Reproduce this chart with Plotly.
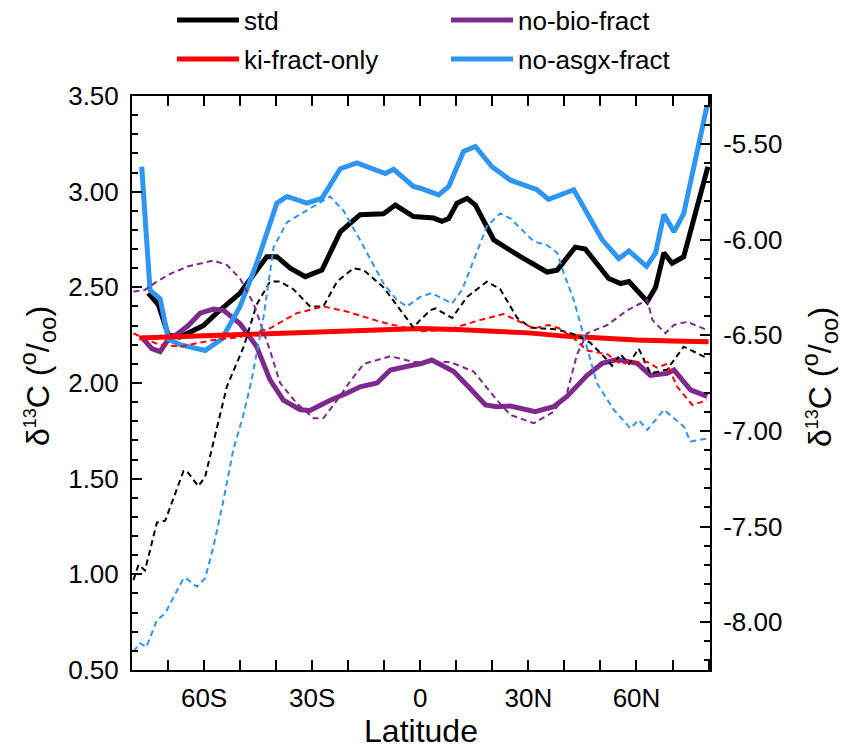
import plotly.graph_objects as go

# ---------------- data (left axis: solid lines) ----------------
std_lat = [-75.5, -72.7, -69.9, -66.7, -60.2, -56.5, -50, -46.3, -42.6, -39.8, -36.1, -31.9, -27.3,
           -22.2, -16.7, -10.2, -6.9, -1.9, 3.7, 6, 7.9, 10.2, 13, 15.3, 20.4, 27.8, 35.2, 38, 43,
           45.8, 52.3, 55.6, 57.9, 63, 65.3, 67.6, 69.9, 73.1, 79.8]
std_val = [2.47, 2.41, 2.25, 2.24, 2.30, 2.365, 2.47, 2.57, 2.66, 2.66, 2.60, 2.556, 2.59,
           2.79, 2.88, 2.885, 2.93, 2.87, 2.862, 2.845, 2.86, 2.94, 2.965, 2.93, 2.748, 2.66, 2.58, 2.59, 2.71,
           2.70, 2.546, 2.52, 2.53, 2.426, 2.50, 2.68, 2.626, 2.66, 3.13]

ki_lat = [-78, -60, -40, -20, 0, 10, 20, 30, 40, 50, 60, 70, 80]
ki_val = [2.235, 2.245, 2.258, 2.272, 2.285, 2.28, 2.272, 2.262, 2.245, 2.232, 2.225, 2.22, 2.215]

bio_lat = [-77.3, -74.5, -72.2, -70.4, -66.7, -64.4, -61.1, -57.4, -54.6, -50, -45.4, -41.7, -38,
           -33.3, -30.6, -25, -20.4, -16.7, -12, -8.3, -1.9, 0, 3.2, 9.3, 13.9, 18.1, 21.3, 25, 31.9,
           37, 40.7, 46.3, 50.5, 54.6, 60.2, 63.9, 68.5, 70.4, 75, 79.6]
bio_val = [2.24, 2.18, 2.164, 2.215, 2.267, 2.30, 2.365, 2.386, 2.38, 2.31, 2.19, 2.016, 1.91,
           1.86, 1.856, 1.91, 1.946, 1.98, 2.0, 2.068, 2.094, 2.10, 2.12, 2.06, 1.97, 1.885, 1.876, 1.88, 1.85,
           1.876, 1.93, 2.04, 2.103, 2.123, 2.103, 2.04, 2.05, 2.068, 1.964, 1.93]

asgx_lat = [-77.3, -75, -72.2, -69.9, -66.7, -59.7, -55.1, -50, -45.4, -39.8, -37, -31.5, -27.3,
            -22.2, -17.6, -9.7, -7.4, -1.9, 0, 5.1, 7.9, 12, 15.3, 19.9, 25, 32.4, 35.6, 42.6, 50.5,
            55.1, 57.9, 62.8, 65.3, 67.6, 70.4, 73.1, 79.6]
asgx_val = [3.13, 2.486, 2.44, 2.23, 2.20, 2.17, 2.23, 2.40, 2.625, 2.94, 2.975, 2.94, 2.965,
            3.12, 3.15, 3.095, 3.117, 3.027, 3.018, 2.983, 3.027, 3.21, 3.236, 3.13, 3.06, 3.01, 2.96, 3.01, 2.748,
            2.65, 2.69, 2.61, 2.68, 2.88, 2.79, 2.885, 3.45]

# ---------------- data (right axis: dashed lines) ----------------
std_d_lat = [-79.6, -78.2, -76.4, -73.1, -70.8, -65.7, -64.8, -61.6, -59.7, -53.7, -49, -45.4, -41.7,
             -38.9, -35.2, -30.6, -26.9, -23.1, -18.5, -15.7, -10.2, -5.6, -1.9, 0, 2.8, 4.2, 8.8, 13,
             18.5, 22.2, 26.9, 30.6, 38, 43.5, 47.2, 51.9, 53.2, 55.6, 57.9, 60.6, 63.9, 68.5, 73.1, 79.6]
std_d_val = [-7.78, -7.70, -7.73, -7.48, -7.47, -7.21, -7.21, -7.29, -7.24, -6.77, -6.56, -6.34, -6.22,
             -6.22, -6.26, -6.35, -6.35, -6.22, -6.15, -6.16, -6.25, -6.37, -6.46, -6.42, -6.37, -6.36, -6.41, -6.30,
             -6.22, -6.26, -6.41, -6.46, -6.47, -6.50, -6.54, -6.63, -6.66, -6.60, -6.65, -6.57, -6.70, -6.68, -6.56, -6.62]

ki_d_lat = [-79.6, -75.9, -72.2, -66.7, -57.4, -50, -41.7, -34.3, -26.9, -20.4, -11.1, -1.9, 0, 7.4,
            16.7, 23.1, 27.8, 31.5, 35.6, 38.5, 42.6, 46.3, 51.9, 55.6, 60.2, 63, 65.7, 68.5, 71.3, 75.5, 79.6]
ki_d_val = [-6.49, -6.525, -6.55, -6.56, -6.525, -6.51, -6.464, -6.385, -6.35, -6.376, -6.43, -6.473, -6.48, -6.473,
            -6.42, -6.39, -6.43, -6.464, -6.447, -6.464, -6.516, -6.58, -6.60, -6.65, -6.64, -6.64, -6.67, -6.65, -6.77, -6.865, -6.84]

bio_d_lat = [-79.6, -76.5, -73.1, -69.4, -64.4, -57.4, -53.7, -50, -46.3, -41.7, -38.9, -34.3, -29.6,
             -26.9, -23.1, -19.4, -15.7, -8.3, -1.9, 8.3, 14.8, 21.3, 25, 31.5, 37, 40.7, 43.5, 46.3,
             51.9, 57.4, 63, 64.4, 68, 70.4, 74, 79.6]
bio_d_val = [-6.272, -6.264, -6.22, -6.18, -6.14, -6.11, -6.133, -6.204, -6.333, -6.58, -6.75, -6.856, -6.934,
             -6.934, -6.84, -6.74, -6.65, -6.61, -6.64, -6.64, -6.69, -6.84, -6.917, -6.96, -6.90, -6.804, -6.60, -6.49,
             -6.447, -6.37, -6.316, -6.42, -6.49, -6.447, -6.43, -6.473]

asgx_d_lat = [-79.6, -77.8, -76, -73.1, -70.8, -65.7, -64.8, -62, -59.7, -57.4, -54.6, -51.9, -49,
              -46.8, -43.5, -40.7, -37, -31.5, -25, -21.3, -16.7, -10.2, -6.5, -3.7, 0, 3.2, 8.8, 11.6,
              18.5, 22.2, 25, 31.5, 35.2, 38, 39.8, 42.6, 45.4, 49, 53.7, 58.3, 60.6, 63, 67.6, 73.1, 75, 79.6]
asgx_d_val = [-8.154, -8.11, -8.13, -7.99, -7.954, -7.77, -7.773, -7.815, -7.77, -7.605, -7.361, -7.10, -6.91,
              -6.734, -6.405, -6.04, -5.91, -5.85, -5.775, -5.85, -6.003, -6.23, -6.316, -6.35, -6.30, -6.28, -6.335, -6.264,
              -5.93, -5.864, -5.89, -6.01, -6.03, -6.07, -6.175, -6.316, -6.51, -6.75, -6.89, -6.987, -6.943, -6.995, -6.89, -6.977, -7.056, -7.04]

legend_names = ["std", "ki-fract-only", "no-bio-fract", "no-asgx-fract"]
colors = ["#000000", "#ff0000", "#7e2a8c", "#2f95f2"]

x_ticks = [-60, -30, 0, 30, 60]
x_ticktext = ["60S", "30S", "0", "30N", "60N"]
y_ticks = [0.5, 1.0, 1.5, 2.0, 2.5, 3.0, 3.5]
y_ticktext = ["0.50", "1.00", "1.50", "2.00", "2.50", "3.00", "3.50"]
y2_ticks = [-8.0, -7.5, -7.0, -6.5, -6.0, -5.5]
y2_ticktext = ["-8.00", "-7.50", "-7.00", "-6.50", "-6.00", "-5.50"]
y_title = ("δ<sup><span style='font-size:18px'>13</span></sup>C ("
           "<sup><span style='font-size:24px'>o</span></sup>/"
           "<sub><span style='font-size:24px'>oo</span></sub>)")

FONT = "Liberation Sans, Arial, sans-serif"

# the page body margin is removed (post_script), so figure pixels = page pixels
W, H = 842, 749
PL, PR, PT, PB = 132, 710, 96, 670          # plot area in pixels
PW, PH = PR - PL, PB - PT

fig = go.Figure()

# dashed (right axis)
dashed = [(std_d_lat, std_d_val, colors[0]), (ki_d_lat, ki_d_val, colors[1]),
          (bio_d_lat, bio_d_val, colors[2]), (asgx_d_lat, asgx_d_val, colors[3])]
for la, va, c in dashed:
    fig.add_trace(go.Scatter(x=la, y=va, mode="lines", yaxis="y2", showlegend=False,
                             line=dict(color=c, width=2, dash="6px,4px")))

# solid (left axis)
solid = [(std_lat, std_val, 0, "legend"), (bio_lat, bio_val, 2, "legend3"),
         (asgx_lat, asgx_val, 3, "legend4"), (ki_lat, ki_val, 1, "legend2")]
for la, va, i, lg in solid:
    fig.add_trace(go.Scatter(x=la, y=va, mode="lines", name=legend_names[i], legend=lg,
                             line=dict(color=colors[i], width=5)))


def leg(xpx, ypx):
    return dict(xref="container", yref="container", x=xpx / W, y=1 - ypx / H,
                xanchor="left", yanchor="middle", itemwidth=62, borderwidth=0,
                bgcolor="rgba(0,0,0,0)", font=dict(family=FONT, size=26, color="black"))


def title_ann(xpx, ypx):
    return dict(text=y_title, xref="paper", yref="paper",
                x=(xpx - PL) / PW, y=(PB - ypx) / PH, xanchor="center", yanchor="middle",
                textangle=-90, showarrow=False, font=dict(family=FONT, size=32, color="black"))


fig.update_layout(
    width=W, height=H,
    margin=dict(l=PL, r=W - PR, t=PT, b=H - PB, autoexpand=False),
    plot_bgcolor="white", paper_bgcolor="white",
    font=dict(family=FONT, color="black"),
    legend=leg(172, 20), legend2=leg(172, 59), legend3=leg(446, 20), legend4=leg(446, 59),
    annotations=[title_ann(37, 376), title_ann(819, 377)],
    xaxis=dict(range=[-80, 80.4], tickvals=x_ticks, ticktext=x_ticktext,
               ticks="inside", ticklen=10, tickwidth=1.5, tickcolor="black",
               minor=dict(dtick=10, tick0=0, ticks="inside", ticklen=6, tickwidth=1.5, tickcolor="black"),
               showline=True, linecolor="black", linewidth=2, mirror="allticks",
               showgrid=False, zeroline=False, tickfont=dict(size=26),
               ticklabelstandoff=4, automargin=False,
               title=dict(text="Latitude", font=dict(size=32), standoff=10)),
    yaxis=dict(range=[0.5, 3.5], tickvals=y_ticks, ticktext=y_ticktext,
               ticks="inside", ticklen=10, tickwidth=1.5, tickcolor="black",
               minor=dict(dtick=0.1, tick0=0.5, ticks="inside", ticklen=6, tickwidth=1.5, tickcolor="black"),
               showline=True, linecolor="black", linewidth=2,
               showgrid=False, zeroline=False, tickfont=dict(size=26),
               ticklabelstandoff=6, automargin=False),
    yaxis2=dict(range=[-8.25, -5.25], tickvals=y2_ticks, ticktext=y2_ticktext,
                overlaying="y", side="right",
                ticks="inside", ticklen=10, tickwidth=1.5, tickcolor="black",
                minor=dict(dtick=0.1, tick0=-8.0, ticks="inside", ticklen=6, tickwidth=1.5, tickcolor="black"),
                showline=True, linecolor="black", linewidth=2,
                showgrid=False, zeroline=False, tickfont=dict(size=26),
                ticklabelstandoff=6, automargin=False),
)

fig.write_html("out.html", config={"displayModeBar": False},
               post_script="document.body.style.margin='0'; document.body.style.overflow='hidden';")
